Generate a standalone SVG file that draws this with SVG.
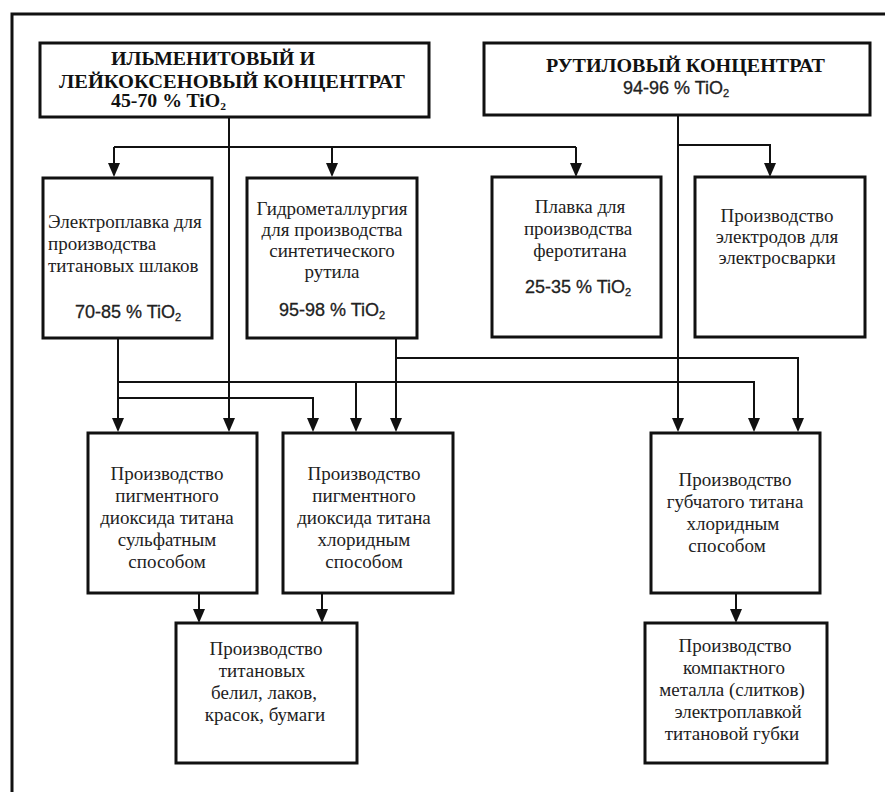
<svg xmlns="http://www.w3.org/2000/svg" width="885" height="792" viewBox="0 0 885 792">
<style>
.box{fill:#fff;stroke:#111;stroke-width:3}
.c{fill:none;stroke:#111;stroke-width:2}
.t{font-family:"Liberation Serif","Times New Roman",serif;font-size:19px;fill:#222;text-anchor:middle}
.tl{font-family:"Liberation Serif","Times New Roman",serif;font-size:19px;fill:#222}
.h{font-family:"Liberation Serif","Times New Roman",serif;font-size:19px;font-weight:bold;fill:#111}
.p{font-family:"Liberation Sans",Arial,sans-serif;font-size:18px;fill:#222;text-anchor:middle;stroke:#222;stroke-width:0.3}
.sub{font-size:11px}
</style>
<rect width="885" height="792" fill="#fff"/>
<path d="M12,792 V14 H885" fill="none" stroke="#111" stroke-width="3"/>

<g id="connectors">
<path class="c" d="M114,147 H576"/>
<path class="c" d="M114,147 V163"/>
<path class="c" d="M332,147 V163"/>
<path class="c" d="M576,147 V163"/>
<path class="c" d="M229,117 V418"/>
<path class="c" d="M678,115 V418"/>
<path class="c" d="M678,145 H770 V163"/>
<path class="c" d="M118,338 V418"/>
<path class="c" d="M118,382 H754 V418"/>
<path class="c" d="M118,398 H313 V418"/>
<path class="c" d="M356,382 V418"/>
<path class="c" d="M396,338 V418"/>
<path class="c" d="M396,358 H798 V418"/>
<path class="c" d="M199,593 V609"/>
<path class="c" d="M322,593 V609"/>
<path class="c" d="M736,593 V609"/>
<g fill="#111">
<path d="M108,163 H120 L114,177 Z"/>
<path d="M326,163 H338 L332,177 Z"/>
<path d="M570,163 H582 L576,177 Z"/>
<path d="M764,163 H776 L770,177 Z"/>
<path d="M112,418 H124 L118,432 Z"/>
<path d="M223,418 H235 L229,432 Z"/>
<path d="M307,418 H319 L313,432 Z"/>
<path d="M350,418 H362 L356,432 Z"/>
<path d="M390,418 H402 L396,432 Z"/>
<path d="M672,418 H684 L678,432 Z"/>
<path d="M748,418 H760 L754,432 Z"/>
<path d="M792,418 H804 L798,432 Z"/>
<path d="M193,609 H205 L199,623 Z"/>
<path d="M316,609 H328 L322,623 Z"/>
<path d="M730,609 H742 L736,623 Z"/>
</g>
</g>

<g id="ilmenite">
<rect class="box" x="40" y="43" width="389" height="74"/>
<text class="h" x="111" y="65" textLength="204" lengthAdjust="spacingAndGlyphs">ИЛЬМЕНИТОВЫЙ И</text>
<text class="h" x="59" y="88" textLength="346" lengthAdjust="spacingAndGlyphs">ЛЕЙКОКСЕНОВЫЙ КОНЦЕНТРАТ</text>
<text class="h" x="111" y="107" textLength="115" lengthAdjust="spacingAndGlyphs">45-70 % TiO<tspan class="sub" dy="3">2</tspan></text>
</g>

<g id="rutile">
<rect class="box" x="484" y="43" width="386" height="72"/>
<text class="h" x="546" y="72" textLength="279" lengthAdjust="spacingAndGlyphs">РУТИЛОВЫЙ КОНЦЕНТРАТ</text>
<text class="p" x="676" y="94">94-96 % TiO<tspan class="sub" dy="3">2</tspan></text>
</g>

<g id="electrosmelting">
<rect class="box" x="43" y="178" width="169" height="160"/>
<text class="tl" x="48" y="228">Электроплавка для</text>
<text class="tl" x="48" y="250">производства</text>
<text class="tl" x="48" y="272">титановых шлаков</text>
<text class="p" x="128" y="318">70-85 % TiO<tspan class="sub" dy="3">2</tspan></text>
</g>

<g id="hydrometallurgy">
<rect class="box" x="247" y="178" width="170" height="160"/>
<text class="t" x="332" y="215">Гидрометаллургия</text>
<text class="t" x="332" y="236">для производства</text>
<text class="t" x="332" y="257">синтетического</text>
<text class="t" x="332" y="278">рутила</text>
<text class="p" x="332" y="316">95-98 % TiO<tspan class="sub" dy="3">2</tspan></text>
</g>

<g id="ferrotitanium">
<rect class="box" x="492" y="177" width="169" height="160"/>
<text class="t" x="580" y="213">Плавка для</text>
<text class="t" x="578" y="235">производства</text>
<text class="t" x="580" y="257">феротитана</text>
<text class="p" x="578" y="293">25-35 % TiO<tspan class="sub" dy="3">2</tspan></text>
</g>

<g id="electrodes">
<rect class="box" x="695" y="177" width="170" height="160"/>
<text class="t" x="777" y="222">Производство</text>
<text class="t" x="777" y="243">электродов для</text>
<text class="t" x="777" y="264">электросварки</text>
</g>

<g id="sulfate">
<rect class="box" x="88" y="433" width="169" height="160"/>
<text class="t" x="167" y="480">Производство</text>
<text class="t" x="167" y="502">пигментного</text>
<text class="t" x="167" y="524">диоксида титана</text>
<text class="t" x="167" y="546">сульфатным</text>
<text class="t" x="167" y="568">способом</text>
</g>

<g id="chloride">
<rect class="box" x="283" y="433" width="170" height="160"/>
<text class="t" x="364" y="480">Производство</text>
<text class="t" x="364" y="502">пигментного</text>
<text class="t" x="364" y="524">диоксида титана</text>
<text class="t" x="364" y="546">хлоридным</text>
<text class="t" x="364" y="568">способом</text>
</g>

<g id="pigments">
<rect class="box" x="176" y="623" width="181" height="140"/>
<text class="t" x="266" y="655">Производство</text>
<text class="t" x="262" y="677">титановых</text>
<text class="t" x="264" y="699">белил, лаков,</text>
<text class="t" x="265" y="721">красок, бумаги</text>
</g>

<g id="sponge">
<rect class="box" x="651" y="433" width="169" height="160"/>
<text class="t" x="735" y="486">Производство</text>
<text class="t" x="735" y="508">губчатого титана</text>
<text class="t" x="733" y="530">хлоридным</text>
<text class="t" x="727" y="552">способом</text>
</g>

<g id="compact">
<rect class="box" x="645" y="623" width="182" height="140"/>
<text class="t" x="735" y="652">Производство</text>
<text class="t" x="734" y="674">компактного</text>
<text class="t" x="732" y="696">металла (слитков)</text>
<text class="t" x="738" y="718">электроплавкой</text>
<text class="t" x="732" y="740">титановой губки</text>
</g>
</svg>
